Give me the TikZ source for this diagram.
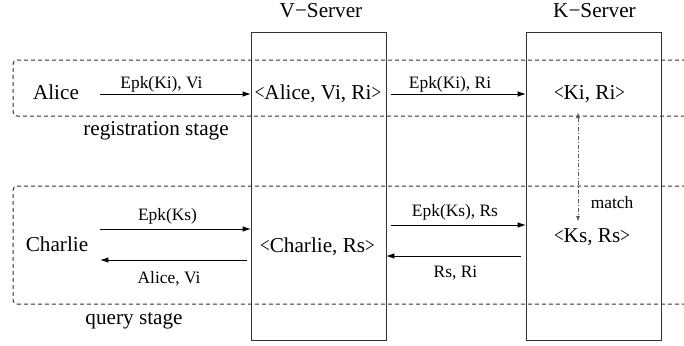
\documentclass[tikz,border=0pt]{standalone}
\usepackage{fontspec}
\setmainfont{Liberation Serif}
\usetikzlibrary{arrows.meta}
\newcommand{\ltx}{\scalebox{0.8}[1]{<}}
\newcommand{\gtx}{\scalebox{0.8}[1]{>}}
\begin{document}
\begin{tikzpicture}[x=0.5pt,y=-0.5pt,
  big/.style={font=\fontsize{10.6}{12}\selectfont, anchor=base, inner sep=0pt},
  small/.style={font=\fontsize{8.7}{10}\selectfont, anchor=base, inner sep=0pt},
  server/.style={draw=black!80, line width=0.5pt, minimum width=67.5pt, minimum height=154pt, outer sep=0pt, inner sep=0pt},
  arr/.style={line width=0.5pt, -{Latex[length=4.2pt,width=2.8pt]}},
  stage/.style={line width=0.5pt, dash pattern=on 2pt off 1.5pt, rounded corners=2pt, black!80},
  matcharr/.style={line width=0.5pt, black!65, dash pattern=on 2pt off 1pt on 0.5pt off 1pt, {Latex[length=3pt,width=2pt]}-{Latex[length=3pt,width=2pt]}}]
\useasboundingbox (0,0) rectangle (684,345);
% stage regions
\draw[stage] (700,60) -- (13,60) -- (13,116) -- (700,116);
\draw[stage] (700,186) -- (13,186) -- (13,304) -- (700,304);
% servers
\node[server] (vbox) at (318.5,186) {};
\node[server] (kbox) at (593.5,186.5) {};
\node[big] (vtitle) at (321,17) {V−Server};
\node[big] (ktitle) at (594.5,17) {K−Server};
% registration stage
\node[big] (alice) at (56,99) {Alice};
\node[big] (vrec1) at (318,99) {\ltx Alice, Vi, Ri\gtx};
\node[big] (krec1) at (589.5,99) {\ltx Ki, Ri\gtx};
\node[big] (regst) at (156,135) {registration stage};
\coordinate (a1) at (100,94);
\coordinate (a2) at (391,94);
\draw[arr] (a1) -- (a1 -| vbox.west);
\draw[arr] (a2) -- (a2 -| kbox.west);
\node[small] (l1) at (161.5,88) {Epk(Ki), Vi};
\node[small] (l2) at (450,88) {Epk(Ki), Ri};
% query stage
\node[big] (charlie) at (57,251.5) {Charlie};
\node[big] (vrec2) at (317.5,252) {\ltx Charlie, Rs\gtx};
\node[big] (krec2) at (592,242.5) {\ltx Ks, Rs\gtx};
\node[big] (qst) at (134,324) {query stage};
\coordinate (b1) at (100,229);
\coordinate (b2) at (247,260);
\coordinate (b3) at (391,225);
\coordinate (b4) at (521,256);
\draw[arr] (b1) -- (b1 -| vbox.west);
\draw[arr] (b2) -- (b2 -| b1);
\draw[arr] (b3) -- (b3 -| kbox.west);
\draw[arr] (b4) -- (b4 -| vbox.east);
\node[small] (l3) at (167.5,220.5) {Epk(Ks)};
\node[small] (l4) at (169,283) {Alice, Vi};
\node[small] (l5) at (455,216) {Epk(Ks), Rs};
\node[small] (l6) at (455.5,277) {Rs, Ri};
% match
\coordinate (m1) at (578,112);
\coordinate (m2) at (578,222);
\draw[matcharr] (m1) -- (m2);
\node[small] (match) at (612,208) {match};
\end{tikzpicture}
\end{document}
